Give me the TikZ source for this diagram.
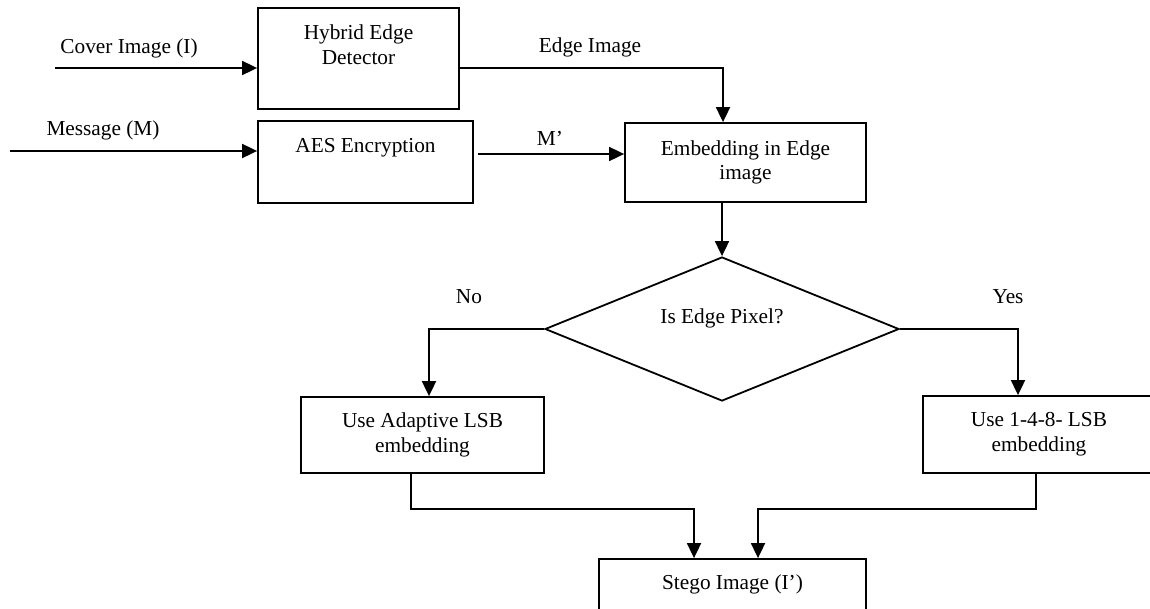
\documentclass[tikz,border=0pt]{standalone}
\usepackage{fontspec}
\setmainfont{Liberation Serif}
\usetikzlibrary{arrows.meta,shapes.geometric,calc}
\newcommand\liftt[2]{\raisebox{#1}[0pt][0pt]{\begin{tabular}{@{}c@{}}#2\end{tabular}}}
\begin{document}
\begin{tikzpicture}[x=1pt,y=-1pt,
  every node/.style={font=\fontsize{21.3}{24.8}\selectfont},
  box/.style={draw, line width=1.8pt, rectangle, align=center, inner sep=0pt},
  arr/.style={line width=1.8pt, -{Triangle[length=15pt,width=14pt]}},
  ln/.style={line width=1.8pt},
  lbl/.style={inner sep=0pt}]
\useasboundingbox (0,0) rectangle (1150,608);
% boxes
\node[box, minimum width=201pt, minimum height=101pt] (hyb) at (358.5,58.5) {\liftt{6pt}{Hybrid Edge\\Detector}};
\node[box, minimum width=215pt, minimum height=82pt] (aes) at (365.5,162) {\liftt{9pt}{AES Encryption}};
\node[box, minimum width=241pt, minimum height=79pt] (emb) at (745.5,162.5) {Embedding in Edge\\image};
\node[draw, diamond, line width=1.8pt, minimum width=354pt, minimum height=144pt, inner sep=0pt, aspect=2.46] (dia) at (722,329) {\liftt{5pt}{Is Edge Pixel?}};
\node[box, minimum width=243pt, minimum height=76pt] (ada) at (422.5,435) {Use Adaptive LSB\\embedding};
\node[box, minimum width=232pt, minimum height=77pt] (lsb) at (1039,434.5) {Use 1-4-8- LSB\\embedding};
\node[box, minimum width=267pt, minimum height=90pt] (stego) at (732.5,604) {\liftt{14pt}{Stego Image (I’)}};
% inputs
\coordinate (cov) at (55,68);
\coordinate (msg) at (10,151);
\draw[arr] (cov) -- (cov -| hyb.west);
\draw[arr] (msg) -- (msg -| aes.west);
\node[lbl] (lcov) at (129,48) {Cover Image (I)};
\node[lbl] (lmsg) at (103,130) {Message (M)};
% edge image
\draw[arr] ([yshift=-9.5pt]hyb.east) -| ([xshift=-22.5pt]emb.north);
\node[lbl] (ledge) at (590,47) {Edge Image};
% M'
\draw[arr] ([shift={(4pt,8pt)}]aes.east) -- ([yshift=8.5pt]emb.west);
\node[lbl] (lmp) at (550,138) {M’};
% to decision
\draw[arr] (dia.north |- emb.south) -- (dia.north);
% branches
\draw[arr] (dia.west) -| ([xshift=6.5pt]ada.north);
\draw[arr] (dia.east) -| ([xshift=-21pt]lsb.north);
\node[lbl] (lno) at (469,297) {No};
\node[lbl] (lyes) at (1008,297) {Yes};
% merge
\draw[arr] ([xshift=-11.5pt]ada.south) -- ++(0,35) -| ([xshift=-38.5pt]stego.north);
\draw[arr] ([xshift=-3pt]lsb.south) -- ++(0,35) -| ([xshift=25.5pt]stego.north);
\end{tikzpicture}
\end{document}
